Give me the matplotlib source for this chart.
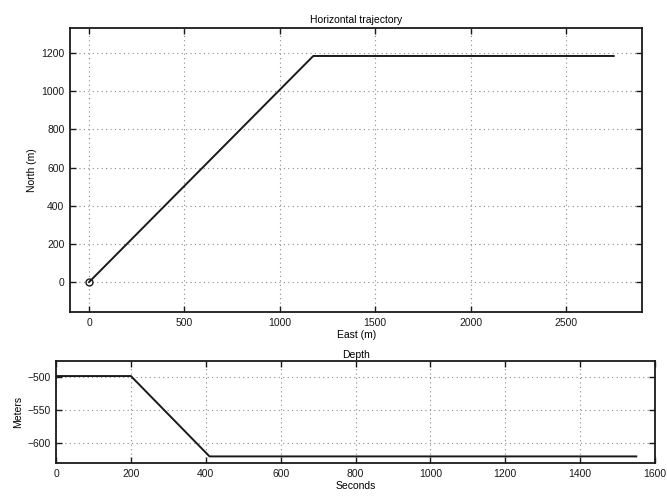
import matplotlib
matplotlib.use("Agg")
import matplotlib.pyplot as plt
import numpy as np

plt.rcParams['font.family'] = ['Liberation Sans', 'DejaVu Sans']
plt.rcParams['font.size'] = 7.5

# horizontal trajectory (m)
east = [0, 1175, 2750]
north = [0, 1185, 1185]

# depth profile
seconds = [0, 200, 410, 1550]
depth = [-498, -498, -620, -620]

fig = plt.figure(figsize=(6.67, 4.98), dpi=100)
ax1 = fig.add_axes([0.105, 0.3735, 0.858, 0.570])
ax2 = fig.add_axes([0.084, 0.0703, 0.898, 0.205])

ax1.plot(east, north, color='#1a1a1a', lw=1.4)
ax1.plot(east[0], north[0], 'o', mfc='none', mec='#1a1a1a', ms=5, mew=1.0)
ax1.set_xlim(-100, 2900)
ax1.set_ylim(-157, 1331)
ax1.set_xticks(np.arange(0, 2501, 500))
ax1.set_yticks(np.arange(0, 1201, 200))
ax1.set_title('Horizontal trajectory', fontsize=7.5, pad=4)
ax1.set_xlabel('East (m)', labelpad=2)
ax1.set_ylabel('North (m)', labelpad=3)

ax2.plot(seconds, depth, color='#1a1a1a', lw=1.4)
ax2.set_xlim(0, 1600)
ax2.set_ylim(-630, -475)
ax2.set_xticks(np.arange(0, 1601, 200))
ax2.set_yticks([-600, -550, -500])
ax2.set_title('Depth', fontsize=7.5, pad=2)
ax2.set_xlabel('Seconds', labelpad=2)
ax2.set_ylabel('Meters', labelpad=3)

for ax in (ax1, ax2):
    ax.grid(True, linestyle=(0, (1, 3)), color='#8a8a8a', lw=0.8)
    ax.tick_params(direction='in', top=True, right=True, length=4, width=1.0,
                   labelsize=7.5, colors='#1a1a1a', pad=4)
    for s in ax.spines.values():
        s.set_linewidth(1.3)
        s.set_color('#1a1a1a')

fig.savefig('out.png', dpi=100)
